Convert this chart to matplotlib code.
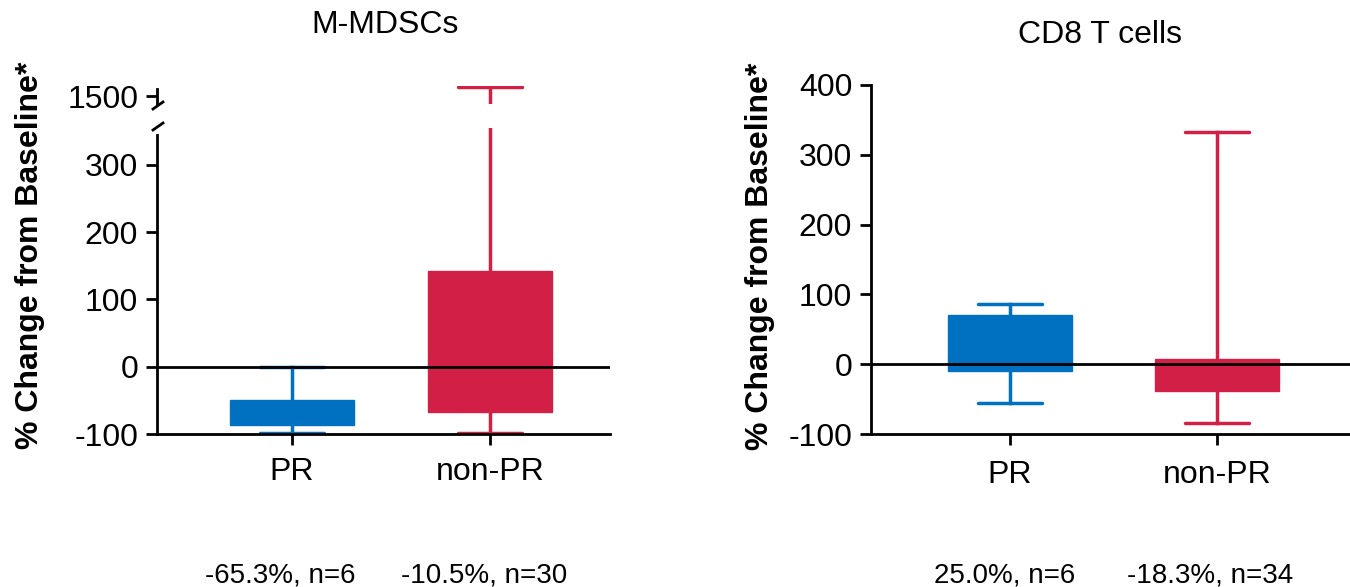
import matplotlib
matplotlib.use("Agg")
import matplotlib.pyplot as plt

plt.rcParams['font.family'] = ['Liberation Sans', 'DejaVu Sans']

groups = ["PR", "non-PR"]
colors = ["#0070C0", "#D21F45"]

# M-MDSCs (% change): q1, q3, whisker low, whisker high
mdsc_q1 = [-86, -67]
mdsc_q3 = [-50, 142]
mdsc_lo = [-98, -98]
mdsc_hi = [-1, 1528]
mdsc_notes = ["-65.3%, n=6", "-10.5%, n=30"]

# CD8 T cells
cd8_q1 = [-10, -38]
cd8_q3 = [71, 7]
cd8_lo = [-56, -84]
cd8_hi = [86, 333]
cd8_notes = ["25.0%, n=6", "-18.3%, n=34"]

W, H = 1350, 587
fig = plt.figure(figsize=(W / 100, H / 100), dpi=100)

def fx(px):
    return px / W

def fy(py):
    return 1 - py / H

FS = 23
FS_NOTE = 20

def make_stats(q1, q3, lo, hi):
    out = []
    for a, b, c, d in zip(q1, q3, lo, hi):
        out.append(dict(med=(a + b) / 2, q1=a, q3=b, whislo=c, whishi=d, fliers=[]))
    return out

def draw_boxes(ax, stats, width, capw):
    for i, (s, c) in enumerate(zip(stats, colors)):
        ax.bxp([s], positions=[i + 1], widths=width, patch_artist=True,
               showfliers=False, capwidths=capw,
               boxprops=dict(facecolor=c, edgecolor=c, linewidth=1),
               whiskerprops=dict(color=c, linewidth=2.5),
               capprops=dict(color=c, linewidth=2.5, solid_capstyle='round'),
               medianprops=dict(color=c, linewidth=0))

def style(ax):
    for sp in ['top', 'right']:
        ax.spines[sp].set_visible(False)
    for sp in ['left', 'bottom']:
        ax.spines[sp].set_linewidth(2)
    ax.tick_params(axis='both', direction='out', length=8, width=2, labelsize=FS)
    ax.tick_params(axis='y', pad=5.5)
    ax.tick_params(axis='x', pad=8.5)

# ---- Left panel: broken axis ----
axL = fig.add_axes([fx(157), fy(434), fx(610 - 157), fy(128) - fy(434)])
axU = fig.add_axes([fx(157), fy(104), fx(610 - 157), fy(86) - fy(104)], sharex=axL)

stats_m = make_stats(mdsc_q1, mdsc_q3, mdsc_lo, mdsc_hi)
for ax in (axL, axU):
    draw_boxes(ax, stats_m, 0.626, 0.32)
    style(ax)
    ax.axhline(0, color='black', lw=2, zorder=5)

axL.set_xlim(0.318, 2.606)
axL.set_ylim(-100, 355)
axL.set_yticks([-100, 0, 100, 200, 300])
axL.set_yticklabels(["-100", "0", "100", "200", "300"])
axL.set_xticks([1, 2])
axL.set_xticklabels(groups, fontsize=FS)
axL.spines['left'].set_bounds(-100, 345)

axU.set_ylim(1478, 1530)
axU.set_yticks([1500])
axU.set_yticklabels(["1500"])
axU.spines['bottom'].set_visible(False)
axU.tick_params(axis='x', bottom=False, labelbottom=False)
axU.spines['left'].set_bounds(1478, 1522)
axU.patch.set_alpha(0)

# break marks
bk = dict(color='black', lw=2, transform=fig.transFigure, clip_on=False)
fig.add_artist(plt.Line2D([fx(153), fx(163)], [fy(109), fy(102)], **bk))
fig.add_artist(plt.Line2D([fx(153), fx(163)], [fy(130), fy(123)], **bk))

fig.text(fx(30), fy(255), "% Change from Baseline*", rotation=90, ha='center', va='center',
         fontsize=FS, fontweight='bold')
fig.text(fx(385), fy(25), "M-MDSCs", ha='center', va='center', fontsize=FS)

for i, t in enumerate(mdsc_notes):
    axL.annotate(t, xy=(i + 1, 0), xycoords=('data', 'figure fraction'),
                 xytext=(-12 if i == 0 else -6, fy(575) * H), textcoords=('offset pixels', 'figure pixels'),
                 ha='center', va='center', fontsize=FS_NOTE)

# ---- Right panel ----
axR = fig.add_axes([fx(871), fy(434), fx(1350 - 871), fy(85) - fy(434)])
stats_c = make_stats(cd8_q1, cd8_q3, cd8_lo, cd8_hi)
draw_boxes(axR, stats_c, 0.6, 0.31)
style(axR)
axR.tick_params(axis='x', pad=10.5)
axR.axhline(0, color='black', lw=2, zorder=5)
axR.set_xlim(0.329, 2.643)
axR.set_ylim(-100, 400)
axR.set_yticks([-100, 0, 100, 200, 300, 400])
axR.set_yticklabels(["-100", "0", "100", "200", "300", "400"])
axR.set_xticks([1, 2])
axR.set_xticklabels(groups, fontsize=FS)
fig.text(fx(760), fy(256), "% Change from Baseline*", rotation=90, ha='center', va='center',
         fontsize=FS, fontweight='bold')
fig.text(fx(1100), fy(35), "CD8 T cells", ha='center', va='center', fontsize=FS)

for i, t in enumerate(cd8_notes):
    axR.annotate(t, xy=(i + 1, 0), xycoords=('data', 'figure fraction'),
                 xytext=(-5 if i == 0 else -7, fy(575) * H), textcoords=('offset pixels', 'figure pixels'),
                 ha='center', va='center', fontsize=FS_NOTE)

fig.savefig("out.png", dpi=100)
